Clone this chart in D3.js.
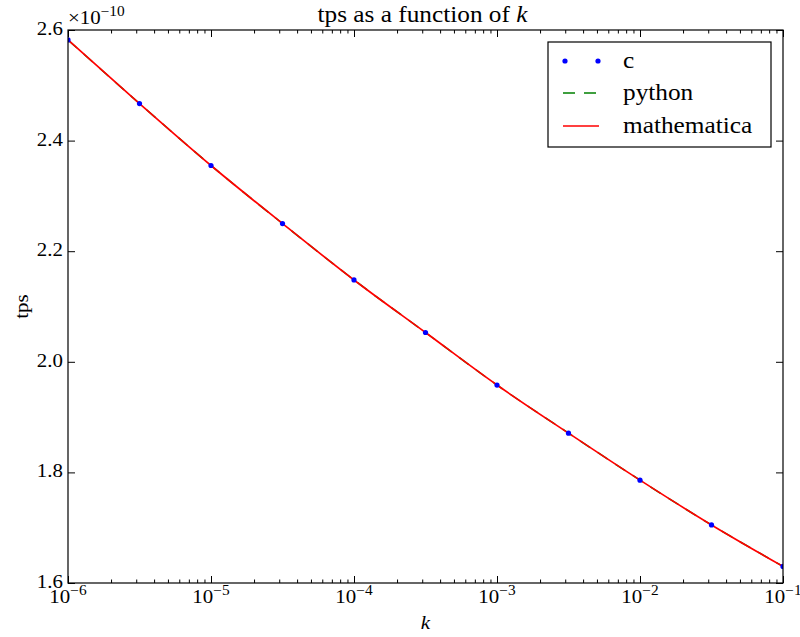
<!DOCTYPE html>
<html>
<head>
<meta charset="utf-8">
<script src="https://cdn.jsdelivr.net/npm/d3@7"></script>
<style>
  html, body { margin: 0; padding: 0; background: #fff; }
  svg text { font-family: "Liberation Serif", "DejaVu Serif", serif; fill: #000; }
</style>
</head>
<body>
<svg id="chart" width="800" height="637"></svg>
<script>
// k values (half-decade steps) and tps results, in units of 1e-10
const kValues = [1e-6, 3.1623e-6, 1e-5, 3.1623e-5, 1e-4, 3.1623e-4, 1e-3, 3.1623e-3, 1e-2, 3.1623e-2, 1e-1];
const tpsC = [2.582, 2.467, 2.355, 2.250, 2.148, 2.053, 1.958, 1.871, 1.786, 1.705, 1.630];
const tpsPython = [2.582, 2.467, 2.355, 2.250, 2.148, 2.053, 1.958, 1.871, 1.786, 1.705, 1.630];
const tpsMathematica = [2.582, 2.467, 2.355, 2.250, 2.148, 2.053, 1.958, 1.871, 1.786, 1.705, 1.630];
const xTickExps = [-6, -5, -4, -3, -2, -1];
const yTicks = [1.6, 1.8, 2.0, 2.2, 2.4, 2.6];
const seriesNames = ["c", "python", "mathematica"];

const svg = d3.select("#chart");
const L = 68, R = 783, T = 30, B = 583;
const SX = 1.1;          // horizontal widening of the serif face
const FS_MED = 19, FS_LARGE = 23;

const x = d3.scaleLog().domain([1e-6, 1e-1]).range([L, R]);
const y = d3.scaleLinear().domain([1.6, 2.6]).range([B, T]);

const defs = svg.append("defs");
defs.append("clipPath").attr("id", "plotclip")
  .append("rect").attr("x", L).attr("y", T).attr("width", R - L).attr("height", B - T);

const place = (px, py) => `translate(${px},${py}) scale(${SX},1)`;

const majorVals = xTickExps.map(e => Math.pow(10, e));
const minorVals = [];
for (let e = -6; e < -1; e++) for (let m = 2; m <= 9; m++) minorVals.push(m * Math.pow(10, e));

// tick marks drawn inward on all four sides
function xTicks(posY, bottom) {
  [[majorVals, -7], [minorVals, -3.5]].forEach(([vals, len]) => {
    const g = svg.append("g").attr("transform", `translate(0,${posY})`);
    const ax = bottom ? d3.axisBottom(x) : d3.axisTop(x);
    g.call(ax.tickValues(vals).tickSizeInner(len).tickSizeOuter(0).tickFormat(""));
    g.select(".domain").remove();
    g.selectAll("line").attr("stroke", "#000").attr("stroke-width", 1);
  });
}
xTicks(B, true);
xTicks(T, false);

function yTickMarks(posX, left) {
  const g = svg.append("g").attr("transform", `translate(${posX},0)`);
  const ax = left ? d3.axisLeft(y) : d3.axisRight(y);
  g.call(ax.tickValues(yTicks).tickSizeInner(-7).tickSizeOuter(0).tickFormat(""));
  g.select(".domain").remove();
  g.selectAll("line").attr("stroke", "#000").attr("stroke-width", 1);
}
yTickMarks(L, true);
yTickMarks(R, false);

// y tick labels
svg.append("g").selectAll("text").data(yTicks).join("text")
  .attr("transform", d => place(L - 5, y(d) + 5))
  .attr("text-anchor", "end").attr("font-size", FS_MED)
  .text(d => d.toFixed(1));

// x tick labels: 10^e
const xl = svg.append("g").selectAll("text").data(xTickExps).join("text")
  .attr("transform", d => place(x(Math.pow(10, d)), B + 20))
  .attr("text-anchor", "middle").attr("font-size", FS_MED);
xl.append("tspan").text("10");
xl.append("tspan").attr("dy", -8).attr("font-size", 14).text(d => "\u2212" + (-d));

// offset text ×10^-10
const off = svg.append("text").attr("transform", place(L, 24)).attr("font-size", FS_MED);
off.append("tspan").text("\u00d710");
off.append("tspan").attr("dy", -8).attr("font-size", 14).text("\u221210");

// title
const title = svg.append("text").attr("transform", place((L + R) / 2 - 3, 22))
  .attr("text-anchor", "middle").attr("font-size", FS_LARGE);
title.append("tspan").text("tps as a function of ");
title.append("tspan").attr("font-style", "italic").text("k");

// axis labels
svg.append("text").attr("transform", place((L + R) / 2, 629))
  .attr("text-anchor", "middle").attr("font-size", FS_MED).attr("font-style", "italic").text("k");
svg.append("text").attr("transform", `translate(28,${(T + B) / 2}) rotate(-90) scale(${SX},1)`)
  .attr("text-anchor", "middle").attr("font-size", FS_MED).text("tps");

// data
const plot = svg.append("g").attr("clip-path", "url(#plotclip)");
const pts = (ys) => kValues.map((k, i) => [k, ys[i]]);
const line = d3.line().x(d => x(d[0])).y(d => y(d[1])).curve(d3.curveMonotoneX);

plot.append("path").datum(pts(tpsPython)).attr("d", line)
  .attr("fill", "none").attr("stroke", "#008000").attr("stroke-width", 1.5)
  .attr("stroke-dasharray", "12,9");
plot.append("path").datum(pts(tpsMathematica)).attr("d", line)
  .attr("fill", "none").attr("stroke", "#ff0000").attr("stroke-width", 1.7);
plot.selectAll("circle").data(pts(tpsC)).join("circle")
  .attr("cx", d => x(d[0])).attr("cy", d => y(d[1])).attr("r", 2.6)
  .attr("fill", "#0000ff");

// frame
svg.append("rect").attr("x", L).attr("y", T).attr("width", R - L).attr("height", B - T)
  .attr("fill", "none").attr("stroke", "#000").attr("stroke-width", 1.2);

// legend
const lg = svg.append("g");
lg.append("rect").attr("x", 548).attr("y", 42).attr("width", 223).attr("height", 105)
  .attr("fill", "#fff").attr("stroke", "#000").attr("stroke-width", 1.2);
const rowsY = [61, 93, 126];
lg.selectAll("circle").data([565, 598]).join("circle")
  .attr("cx", d => d).attr("cy", rowsY[0]).attr("r", 2.6).attr("fill", "#0000ff");
lg.append("line").attr("x1", 563).attr("x2", 599).attr("y1", rowsY[1]).attr("y2", rowsY[1])
  .attr("stroke", "#008000").attr("stroke-width", 1.5).attr("stroke-dasharray", "12,9");
lg.append("line").attr("x1", 563).attr("x2", 599).attr("y1", rowsY[2]).attr("y2", rowsY[2])
  .attr("stroke", "#ff0000").attr("stroke-width", 1.5);
lg.selectAll("text").data(seriesNames).join("text")
  .attr("transform", (d, i) => place(623, rowsY[i] + 7))
  .attr("font-size", FS_LARGE).text(d => d);
</script>
</body>
</html>
